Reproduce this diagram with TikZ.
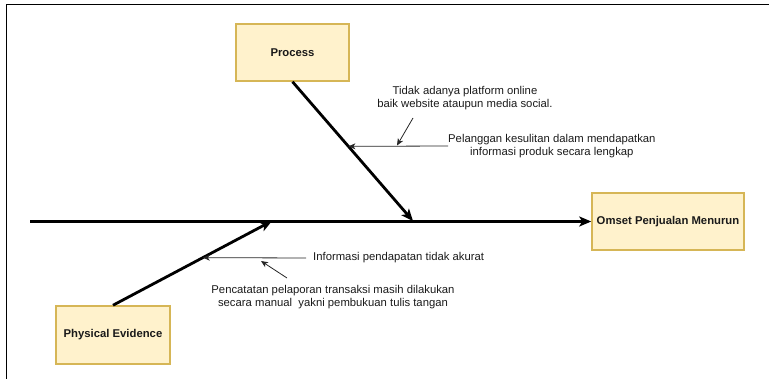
\documentclass[tikz,border=0pt]{standalone}
\usepackage{fontspec}
\setmainfont{Liberation Sans}
\usetikzlibrary{arrows.meta,calc}
\definecolor{boxfill}{HTML}{FFF2CC}
\definecolor{boxline}{HTML}{D6B656}
\definecolor{txt}{HTML}{1A1A1A}
\tikzset{
  cat/.style={draw=boxline, fill=boxfill, line width=1.5pt, minimum width=#1,
    minimum height=57pt, inner sep=0pt, font=\fontsize{11.3}{13}\selectfont\bfseries, text=txt},
  note/.style={align=center, inner sep=0pt, font=\fontsize{11.3}{13}\selectfont, text=txt},
  bone/.style={line width=2.8pt, -{Stealth[length=12pt,width=10pt,inset=3pt]}},
  rib/.style={line width=0.8pt, draw=black!85, -{Stealth[length=7pt,width=6pt,inset=2pt]}},
  frame/.style={line width=1pt}
}
\begin{document}
\begin{tikzpicture}[x=1pt,y=-1pt]
  \useasboundingbox (0,0) rectangle (769,379);
  % page frame
  \coordinate (fTL) at (6,5);
  \coordinate (fTR) at (769,5);
  \coordinate (fBL) at (6,379);
  \draw[frame] (fTR) -- (fTL) -- (fBL);

  % category boxes and effect
  \node[cat=113pt] (proc) at (292.5,52.5) {Process};
  \node[cat=152pt] (effect) at (668,221.5) {Omset Penjualan Menurun};
  \node[cat=114pt, minimum height=58pt] (phys) at (113,335) {Physical Evidence};

  % spine and main bones
  \coordinate (tail) at (30,221.5);
  \coordinate (ptip) at (413,221);
  \coordinate (etip) at (272,221);
  \draw[bone] (tail) -- (effect.west);
  \draw[bone] (proc.south) -- (ptip);
  \draw[bone] (phys.north) -- (etip);

  % causes on the Process bone
  \node[note, anchor=west] (c1) at (448,146)
    {Pelanggan kesulitan dalam mendapatkan\\informasi produk secara lengkap};
  \coordinate (c1hit) at ($(proc.south)!0.464!(ptip)$);
  \draw[rib] (c1.west) -- (c1hit);
  \node[note] (c1a) at (465,98)
    {Tidak adanya platform online\\baik website ataupun media social.};
  \coordinate (c1aend) at (397,145.5);
  \coordinate (c1astart) at (413,118);
  \draw[rib] (c1astart) -- (c1aend);

  % causes on the Physical Evidence bone
  \node[note, anchor=west] (c2) at (313,258) {Informasi pendapatan tidak akurat};
  \coordinate (c2hit) at ($(phys.north)!0.565!(etip)$);
  \draw[rib] (c2.west) ++(-7,0) -- (c2hit);
  \node[note] (c2a) at (333,297)
    {Pencatatan pelaporan transaksi masih dilakukan\\secara manual\ \ yakni pembukuan tulis tangan};
  \coordinate (c2astart) at (287,278);
  \coordinate (c2aend) at (261,261);
  \draw[rib] (c2astart) -- (c2aend);
\end{tikzpicture}
\end{document}
